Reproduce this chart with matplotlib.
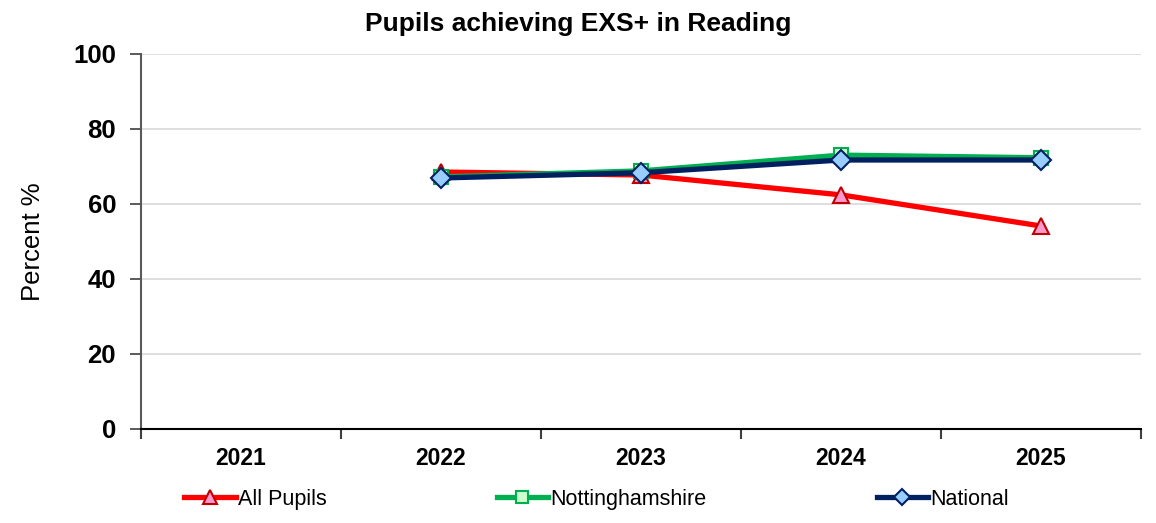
import numpy as np
import matplotlib.pyplot as plt
from matplotlib.ticker import FixedLocator, NullFormatter

years = ['2021', '2022', '2023', '2024', '2025']
all_pupils = [np.nan, 68.5, 67.7, 62.4, 54.1]
notts = [np.nan, 67.2, 68.8, 73.0, 72.3]
national = [np.nan, 66.9, 68.3, 71.7, 71.7]

plt.rcParams['font.family'] = ['Liberation Sans', 'DejaVu Sans']

fig = plt.figure(figsize=(11.56, 5.23), dpi=100)
ax = fig.add_axes([0.122, 0.18, 0.865, 0.717])

x = np.arange(len(years))
ax.plot(x, all_pupils, color='#FF0000', lw=3.8, marker='^', ms=12,
        mfc='#FF99CC', mec='#C00000', mew=1.5, label='All Pupils', zorder=3)
ax.plot(x, notts, color='#00B050', lw=3.8, marker='s', ms=10.5,
        mfc='#CCFFCC', mec='#00B050', mew=1.5, label='Nottinghamshire', zorder=4)
ax.plot(x, national, color='#002060', lw=3.8, marker='D', ms=10.5,
        mfc='#99CCFF', mec='#002060', mew=1.5, label='National', zorder=5)

ax.set_xlim(-0.5, len(years) - 0.5)
ax.set_ylim(0, 100)
ax.set_yticks(range(0, 101, 20))
ax.yaxis.grid(True, color='#D9D9D9', lw=1.2)
ax.set_axisbelow(True)

ax.set_xticks(x)
ax.set_xticklabels(years, fontsize=16.5, fontweight='bold')
ax.tick_params(axis='x', which='major', length=0, pad=13)
ax.xaxis.set_minor_locator(FixedLocator(np.arange(-0.5, len(years), 1.0)))
ax.xaxis.set_minor_formatter(NullFormatter())
ax.tick_params(axis='x', which='minor', length=7, width=1.5, color='#404040')
ax.tick_params(axis='y', length=8, width=1.2, color='#404040', labelsize=18.5, pad=10)
for lab in ax.get_yticklabels():
    lab.set_fontweight('bold')

for s in ['top', 'right']:
    ax.spines[s].set_visible(False)
ax.spines['left'].set_color('#595959')
ax.spines['left'].set_linewidth(1.5)
ax.spines['bottom'].set_color('black')
ax.spines['bottom'].set_linewidth(1.5)

ax.set_ylabel('Percent %', fontsize=18.5, labelpad=20)
fig.text(0.5, 0.955, 'Pupils achieving EXS+ in Reading', ha='center', va='center',
         fontsize=19, fontweight='bold')

fig.legend(loc='center', bbox_to_anchor=(0.516, 0.045), ncol=3, frameon=False,
           prop={'size': 15.5},
           handlelength=2.4, columnspacing=7.9, handletextpad=0.1, markerscale=0.8)

plt.savefig('out.png', dpi=100)
plt.close()
